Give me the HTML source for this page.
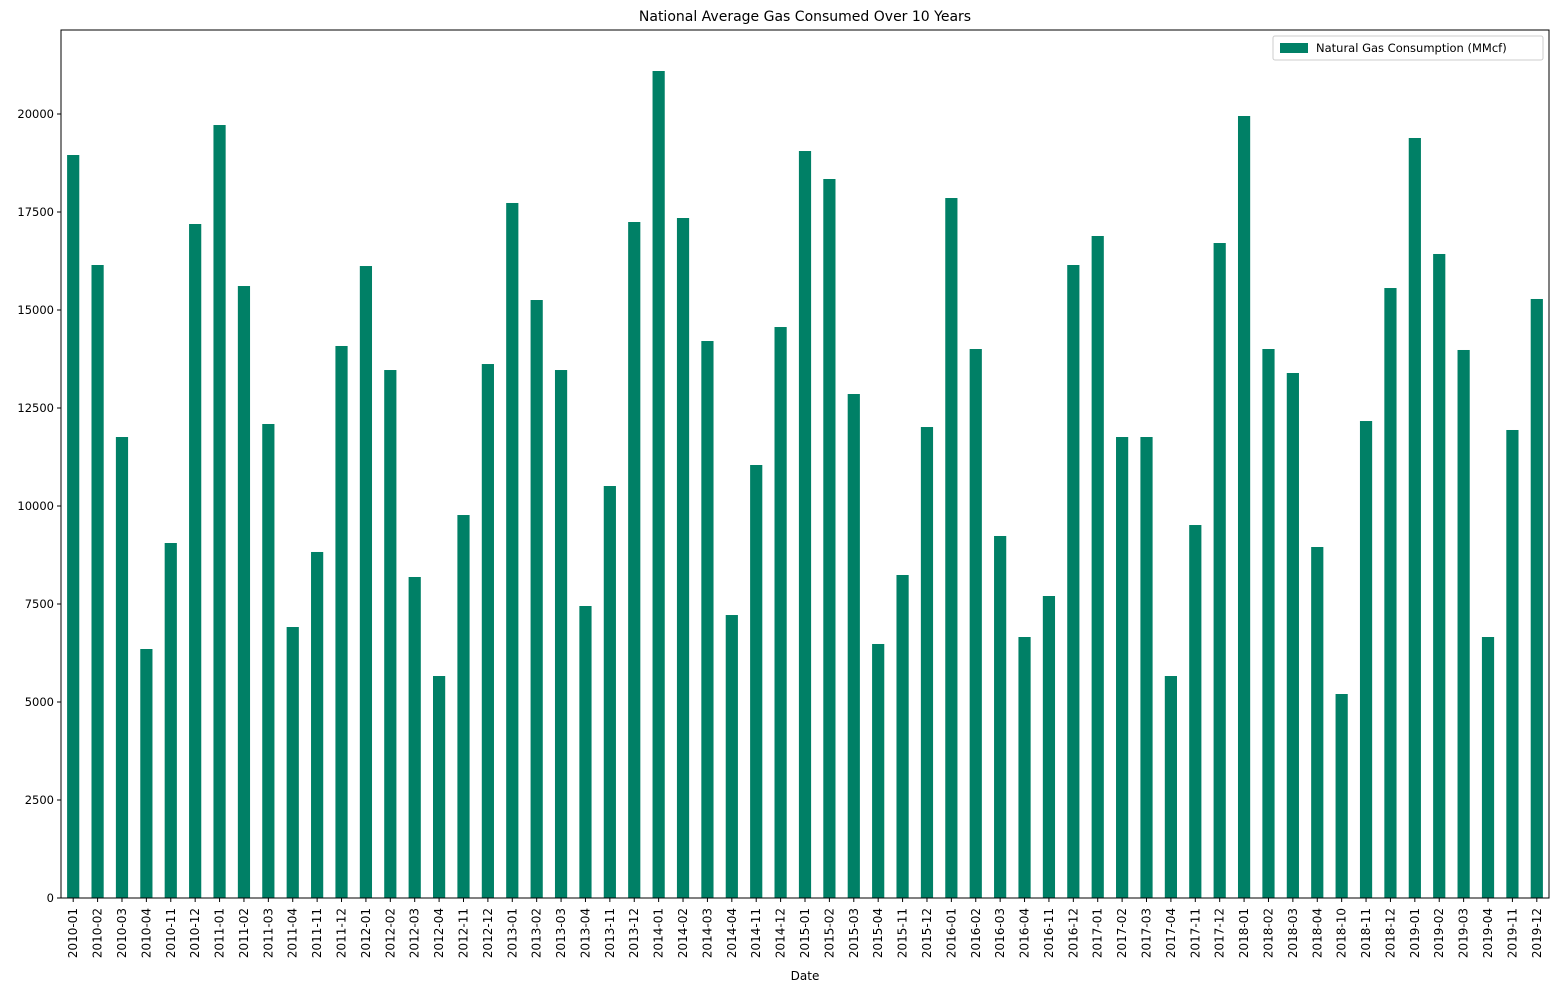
<!DOCTYPE html>
<html><head><meta charset="utf-8"><style>
html,body{margin:0;padding:0;background:#fff;}
svg{display:block;font-family:"DejaVu Sans","Liberation Sans",sans-serif;}
</style></head><body>
<svg id="chart" width="1559" height="992">
<text x="805" y="21" text-anchor="middle" font-size="14">National Average Gas Consumed Over 10 Years</text>
<g id="bars"></g>
<g id="yaxis"></g>
<g id="xaxis"></g>
<rect x="61" y="30" width="1488" height="868" fill="none" stroke="#000" stroke-width="1"/>
<text x="805" y="980" text-anchor="middle" font-size="12">Date</text>
<g>
<rect x="1273" y="36" width="270" height="24" fill="#fff" stroke="#ccc" rx="2"/>
<rect x="1280" y="43" width="28" height="10" fill="#008066"/>
<text x="1316" y="52" font-size="11.5">Natural Gas Consumption (MMcf)</text>
</g>
</svg>
<script>
const categories=["2010-01","2010-02","2010-03","2010-04","2010-11","2010-12","2011-01","2011-02","2011-03","2011-04","2011-11","2011-12","2012-01","2012-02","2012-03","2012-04","2012-11","2012-12","2013-01","2013-02","2013-03","2013-04","2013-11","2013-12","2014-01","2014-02","2014-03","2014-04","2014-11","2014-12","2015-01","2015-02","2015-03","2015-04","2015-11","2015-12","2016-01","2016-02","2016-03","2016-04","2016-11","2016-12","2017-01","2017-02","2017-03","2017-04","2017-11","2017-12","2018-01","2018-02","2018-03","2018-04","2018-10","2018-11","2018-12","2019-01","2019-02","2019-03","2019-04","2019-11","2019-12"];
const values=[18954,16148,11760,6352,9056,17194,19719,15612,12092,6913,8827,14082,16122,13469,8189,5663,9770,13622,17730,15255,13469,7449,10510,17245,21097,17347,14209,7219,11046,14566,19056,18342,12857,6480,8240,12015,17857,14005,9235,6658,7704,16148,16888,11760,11760,5663,9515,16709,19949,14005,13393,8954,5204,12168,15561,19388,16429,13980,6658,11939,15281];
const yTicks=[0,2500,5000,7500,10000,12500,15000,17500,20000];
const NS="http://www.w3.org/2000/svg";
const L=61,R=1549,T=30,B=898,YMAX=22143;
const y=v=>B-(v/YMAX)*(B-T);
const step=(R-L)/categories.length;
const x=i=>L+step*(i+0.5);
const bw=step*0.5;
const bars=document.getElementById('bars'),xa=document.getElementById('xaxis'),ya=document.getElementById('yaxis');
function mk(tag,attrs,parent){const e=document.createElementNS(NS,tag);for(const k in attrs)e.setAttribute(k,attrs[k]);parent.appendChild(e);return e;}
categories.forEach((c,i)=>{
 const r=mk('rect',{x:x(i)-bw/2,y:y(values[i]),width:bw,height:B-y(values[i]),fill:'#008066'},bars);
 
 
 mk('line',{x1:x(i),x2:x(i),y1:B,y2:B+4,stroke:'#000'},xa);
 const t=mk('text',{x:0,y:0,'font-size':12,'text-anchor':'end',transform:`translate(${x(i)+4},${B+10}) rotate(-90)`},xa);
 t.textContent=c;
 
 
});
yTicks.forEach(v=>{
 mk('line',{x1:L-4,x2:L,y1:y(v),y2:y(v),stroke:'#000'},ya);
 const t=mk('text',{x:L-7,y:y(v)+4,'font-size':11.5,'text-anchor':'end'},ya);
 t.textContent=v;
 
 
});
</script>
</body></html>
